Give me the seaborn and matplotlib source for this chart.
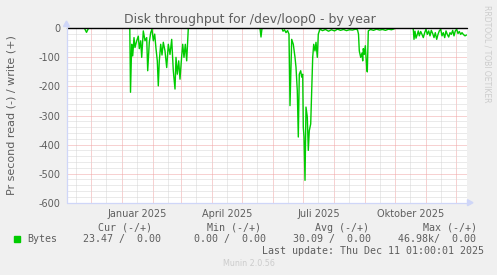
import matplotlib
matplotlib.use("Agg")
import matplotlib.pyplot as plt
import matplotlib.dates as mdates
from matplotlib.ticker import FuncFormatter, MultipleLocator
from matplotlib.patches import Polygon, Rectangle
from matplotlib.lines import Line2D
import seaborn as sns
import pandas as pd

# ---------------- data ----------------
start = "2024-11-06 01:00"
end = "2025-12-11 01:00"
# day offsets from start and read throughput (plotted negative)
day = [0, 18, 20, 22, 63.3, 64, 65.2, 66.2, 67.5, 68.5, 70.2, 71.8, 72.8, 74.2, 75.2,
       76.8, 78.5, 80.2, 81.2, 82.8, 84.2, 85.5, 86.8, 88.2, 89.5, 90.8, 91.8, 92.8,
       94.2, 95.5, 96.8, 98.5, 100.2, 101.8, 103.5, 105.2, 106.8, 108.5, 109.5, 110.8,
       112.2, 113.5, 115.2, 116.2, 117.5, 118.8, 120.2, 121.8,
       193.5, 194.5, 195.5,
       215.5, 216.5, 218, 219.5, 221, 222.5, 223.5, 225.2, 226.8, 228.5, 229.5, 230.8,
       231.8, 232.8, 234.2, 235.2, 236.2, 236.8, 237.5, 238.5, 239.5, 240.8, 241.8,
       242.8, 244.2, 245.2, 246.2, 247.2, 248.5, 249.5, 250.8, 251.8, 253.5,
       256, 259, 262, 265, 268, 271, 274, 277, 280, 283, 286, 289, 291,
       292, 292.8, 294.2, 295.5, 296.2, 296.8, 297.8, 298.8, 300.2, 300.8, 301.8,
       304, 307, 310, 313, 316, 319, 322, 325, 327.5, 328.5, 346,
       346.8, 347.5, 348.5, 349.5, 350.8, 351.8, 352.8, 354.2, 355.5, 356.8, 358.2,
       359.5, 360.8, 362.2, 363.5, 364.8, 366.2, 367.5, 368.8, 370.2, 371.5, 372.8,
       374.2, 375.5, 376.8, 378.2, 379.5, 380.8, 382.2, 383.5, 384.8, 386.2, 387.5,
       388.8, 390.2, 391.5, 392.8, 394.2, 395.5, 396.8, 398.5, 400]
read = [0, 0, -14, 0, 0, -220, -55, -95, -32, -66, -43, -27, -70, -43, -100,
        -9, -43, -32, -146, -48, -15, -3, -43, -20, -70, -112, -198, -112,
        -55, -92, -48, -78, -135, -55, -90, -38, -146, -209, -100, -158,
        -112, -175, -95, -55, -100, -55, -112, 0,
        0, -30, 0,
        0, -10, -5, -15, -8, -20, -266, -38, -55, -100, -134, -215,
        -374, -158, -146, -168, -158, -340, -374, -523, -271, -305, -420,
        -352, -329, -215, -100, -55, -78, -48, -100, -20, -3,
        -8, -4, -10, -5, -9, -3, -7, -4, -8, -5, -6, -3, -5,
        -20, -78, -100, -85, -112, -70, -90, -60, -134, -150, -9,
        -4, -7, -3, -6, -4, -7, -3, -5, -2, 0, 0,
        -3, -38, -10, -34, -21, -9, -26, -11, -21, -32, -15,
        -3, -21, -9, -26, -7, -18, -32, -15, -38, -21, -9,
        -3, -26, -15, -32, -9, -21, -30, -15, -21, -7, -26,
        -9, -3, -18, -11, -21, -15, -21, -26, -23]

series_name = "Bytes"
title = "Disk throughput for /dev/loop0 - by year"
y_label = "Pr second read (-) / write (+)"
y_ticks = [0, -100, -200, -300, -400, -500, -600]
y_tick_labels = ["0", "-100", "-200", "-300", "-400", "-500", "-600"]
x_tick_dates = ["2025-01-16", "2025-04-16", "2025-07-16", "2025-10-16"]
x_tick_labels = ["Januar 2025", "April 2025", "Juli 2025", "Oktober 2025"]
legend_header = ["Cur (-/+)", "Min (-/+)", "Avg (-/+)", "Max (-/+)"]
legend_values = ["23.47 /  0.00", "0.00 /  0.00", "30.09 /  0.00", "46.98k/  0.00"]
last_update = "Last update: Thu Dec 11 01:00:01 2025"
footer = "Munin 2.0.56"
watermark = "RRDTOOL / TOBI OETIKER"

# ---------------- style ----------------
sns.set_style("white")
plt.rcParams["font.family"] = ["DejaVu Sans"]
FONT = "#5e5e5e"
AXIS = "#cfd6f8"
MGRID = "#f0a4a4"
GRID = "#d6d6d6"
GREEN = "#00cc00"

W, H = 497, 275
fig = plt.figure(figsize=(W / 100, H / 100), dpi=100, facecolor="#f0f0f0")


def fx(x):
    return x / W


def fy(y):
    return 1 - y / H


X0, X1, YT, YB = 66.5, 466.5, 28.3, 202.7
ax = fig.add_axes([fx(X0), fy(YB), (X1 - X0) / W, (YB - YT) / H])
ax.set_facecolor("white")

t0 = pd.Timestamp(start)
df = pd.DataFrame({"date": t0 + pd.to_timedelta(day, unit="D"), "read": read})

ax.set_xlim(t0, pd.Timestamp(end))
ax.set_ylim(-600, 0)

# grids
dots = (0, (1, 1))
ax.yaxis.set_minor_locator(MultipleLocator(20))
ax.set_yticks(y_ticks, labels=y_tick_labels)
ax.grid(False)
ax.grid(which="minor", axis="y", color=GRID, lw=0.72, ls=dots, zorder=1)
ax.grid(which="major", axis="y", color=MGRID, lw=0.72, ls=dots, zorder=1.5)
ax.xaxis.set_major_locator(mdates.MonthLocator(bymonthday=1))
ax.xaxis.set_minor_locator(mdates.MonthLocator(bymonthday=16))
ax.grid(which="minor", axis="x", color=GRID, lw=0.72, ls=dots, zorder=1)
ax.grid(which="major", axis="x", color=MGRID, lw=0.72, ls=dots, zorder=1.5)

label_map = {pd.Timestamp(d).strftime("%Y-%m-%d"): l for d, l in zip(x_tick_dates, x_tick_labels)}


def minor_fmt(v, pos):
    return label_map.get(mdates.num2date(v).strftime("%Y-%m-%d"), "")


ax.xaxis.set_major_formatter(FuncFormatter(lambda v, p: ""))
ax.xaxis.set_minor_formatter(FuncFormatter(minor_fmt))
ax.tick_params(axis="x", which="major", length=2, width=0.72, color=MGRID, direction="out")
ax.tick_params(axis="x", which="minor", length=2, width=0.72, color=GRID, direction="out",
               pad=2.2, labelsize=7, labelcolor=FONT)
ax.tick_params(axis="y", which="both", length=0, pad=4.6, labelsize=7, labelcolor=FONT)

for s in ax.spines.values():
    s.set_visible(False)

sns.lineplot(data=df, x="date", y="read", ax=ax, color=GREEN, lw=1.0,
             estimator=None, sort=False, legend=False, zorder=3)
ax.axhline(0, color="black", lw=1.0, zorder=4, clip_on=False)
ax.set_xlabel("")
ax.set_ylabel("")

# axes lines and arrows (rrdtool style)
fig.add_artist(Line2D([fx(X0), fx(468)], [fy(YB), fy(YB)], color=AXIS, lw=0.9))
fig.add_artist(Line2D([fx(X0), fx(X0)], [fy(YB), fy(25)], color=AXIS, lw=0.9))
fig.add_artist(Polygon([[fx(467.5), fy(199.7)], [fx(467.5), fy(205.7)], [fx(473), fy(202.7)]],
                       closed=True, color=AXIS, transform=fig.transFigure))
fig.add_artist(Polygon([[fx(63.5), fy(26.5)], [fx(69.5), fy(26.5)], [fx(66.5), fy(21)]],
                       closed=True, color=AXIS, transform=fig.transFigure))

# texts
fig.text(fx(250), fy(19), title, ha="center", va="center", fontsize=9, color=FONT)
fig.text(fx(12), fy((YT + YB) / 2), y_label, rotation=90, ha="center", va="center",
         fontsize=8, color=FONT)
fig.text(fx(487.5), fy(5), watermark, rotation=270, ha="center", va="top",
         fontsize=5.5, color="#cccccc")

mono = "DejaVu Sans Mono"
fig.add_artist(Rectangle((fx(14), fy(242.3)), 6 / W, 6 / H, color=GREEN,
                         transform=fig.transFigure))
fig.text(fx(27), fy(239.3), series_name, ha="left", va="center", fontsize=7.2,
         family=mono, color=FONT)
for xh, h in zip([98, 207, 315, 423], legend_header):
    fig.text(fx(xh), fy(227.7), h, ha="left", va="center", fontsize=7.2, family=mono, color=FONT)
for xv, v in zip([83, 194, 293, 398], legend_values):
    fig.text(fx(xv), fy(239.3), v, ha="left", va="center", fontsize=7.2, family=mono, color=FONT)
fig.text(fx(262), fy(251), last_update, ha="left", va="center", fontsize=7.2, family=mono,
         color=FONT)
fig.text(fx(223), fy(264), footer, ha="left", va="center", fontsize=5.8, color="#cccccc")

fig.savefig("out.png", dpi=100, facecolor=fig.get_facecolor())
